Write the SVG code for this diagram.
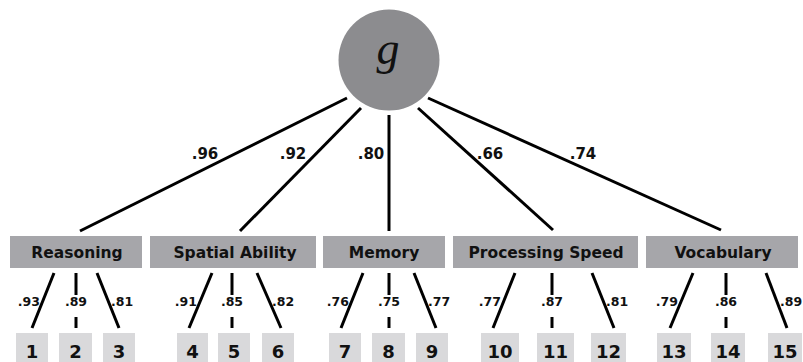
<svg xmlns="http://www.w3.org/2000/svg" width="803" height="362" viewBox="0 0 803 362">
<style>
.ln{stroke:#000;stroke-width:3;fill:none}
.fac{fill:#a6a6aa}
.ind{fill:#d9d9db}
.ft{font-family:"DejaVu Sans",sans-serif;font-weight:bold;font-size:15.5px;fill:#111;text-anchor:middle}
.it{font-family:"DejaVu Sans",sans-serif;font-weight:bold;font-size:18px;fill:#111;text-anchor:middle}
.bl{font-family:"DejaVu Sans",sans-serif;font-weight:bold;font-size:15px;fill:#111;text-anchor:middle}
.sl{font-family:"DejaVu Sans",sans-serif;font-weight:bold;font-size:12.5px;fill:#111;text-anchor:middle}
.sl.e{text-anchor:end}
.sl.s{text-anchor:start}
</style>
<rect width="803" height="362" fill="#fff"/>
<g id="connectors">
<line class="ln" x1="347" y1="98" x2="80" y2="231"/>
<line class="ln" x1="361" y1="108" x2="240" y2="231"/>
<line class="ln" x1="389" y1="115" x2="389" y2="231"/>
<line class="ln" x1="418" y1="108" x2="553" y2="230"/>
<line class="ln" x1="428" y1="98" x2="721" y2="230"/>
<line class="ln" x1="54" y1="273" x2="32" y2="328"/>
<line class="ln" x1="76" y1="273" x2="76" y2="295"/><line class="ln" x1="76" y1="317" x2="76" y2="328"/>
<line class="ln" x1="97" y1="273" x2="119" y2="328"/>
<line class="ln" x1="212" y1="273" x2="189" y2="328"/>
<line class="ln" x1="232" y1="273" x2="232" y2="295"/><line class="ln" x1="232" y1="317" x2="232" y2="328"/>
<line class="ln" x1="257" y1="273" x2="281" y2="328"/>
<line class="ln" x1="363" y1="273" x2="341" y2="328"/>
<line class="ln" x1="389" y1="273" x2="389" y2="295"/><line class="ln" x1="389" y1="317" x2="389" y2="328"/>
<line class="ln" x1="414" y1="273" x2="436" y2="328"/>
<line class="ln" x1="515" y1="273" x2="493" y2="328"/>
<line class="ln" x1="552" y1="273" x2="552" y2="295"/><line class="ln" x1="552" y1="317" x2="552" y2="328"/>
<line class="ln" x1="592" y1="273" x2="614" y2="328"/>
<line class="ln" x1="693" y1="273" x2="670" y2="328"/>
<line class="ln" x1="726" y1="273" x2="726" y2="295"/><line class="ln" x1="726" y1="317" x2="726" y2="328"/>
<line class="ln" x1="766" y1="273" x2="787" y2="328"/>
</g>
<g id="labels">
<text class="bl" x="205" y="159">.96</text>
<text class="bl" x="293" y="159">.92</text>
<text class="bl" x="371" y="159">.80</text>
<text class="bl" x="490" y="159">.66</text>
<text class="bl" x="583" y="159">.74</text>
<text class="sl e" x="40" y="306">.93</text>
<text class="sl" x="76" y="306">.89</text>
<text class="sl s" x="111" y="306">.81</text>
<text class="sl e" x="197" y="306">.91</text>
<text class="sl" x="232" y="306">.85</text>
<text class="sl s" x="272" y="306">.82</text>
<text class="sl e" x="349" y="306">.76</text>
<text class="sl" x="389" y="306">.75</text>
<text class="sl s" x="428" y="306">.77</text>
<text class="sl e" x="501" y="306">.77</text>
<text class="sl" x="552" y="306">.87</text>
<text class="sl s" x="606" y="306">.81</text>
<text class="sl e" x="678" y="306">.79</text>
<text class="sl" x="726" y="306">.86</text>
<text class="sl s" x="780" y="306">.89</text>
</g>
<g id="g"><circle cx="389" cy="60" r="50.5" fill="#8c8c8f"/><text x="388" y="64" font-family="Liberation Serif,serif" font-style="italic" font-size="46" fill="#111" text-anchor="middle">g</text></g>
<g id="reasoning"><rect class="fac" x="10" y="236" width="132" height="32"/><text class="ft" x="77" y="258">Reasoning</text></g>
<g id="spatial"><rect class="fac" x="150" y="236" width="166" height="32"/><text class="ft" x="235" y="258">Spatial Ability</text></g>
<g id="memory"><rect class="fac" x="323" y="236" width="122" height="32"/><text class="ft" x="384" y="258">Memory</text></g>
<g id="speed"><rect class="fac" x="453" y="236" width="185" height="32"/><text class="ft" x="546" y="258">Processing Speed</text></g>
<g id="vocab"><rect class="fac" x="646" y="236" width="152" height="32"/><text class="ft" x="723" y="258">Vocabulary</text></g>
<g id="i1"><rect class="ind" x="16" y="333" width="32" height="31"/><text class="it" x="32" y="358">1</text></g>
<g id="i2"><rect class="ind" x="59" y="333" width="33" height="31"/><text class="it" x="75.5" y="358">2</text></g>
<g id="i3"><rect class="ind" x="103" y="333" width="32" height="31"/><text class="it" x="119" y="358">3</text></g>
<g id="i4"><rect class="ind" x="177" y="333" width="31" height="31"/><text class="it" x="192.5" y="358">4</text></g>
<g id="i5"><rect class="ind" x="218" y="333" width="32" height="31"/><text class="it" x="234" y="358">5</text></g>
<g id="i6"><rect class="ind" x="262" y="333" width="32" height="31"/><text class="it" x="278" y="358">6</text></g>
<g id="i7"><rect class="ind" x="329" y="333" width="32" height="31"/><text class="it" x="345" y="358">7</text></g>
<g id="i8"><rect class="ind" x="372" y="333" width="33" height="31"/><text class="it" x="388.5" y="358">8</text></g>
<g id="i9"><rect class="ind" x="416" y="333" width="32" height="31"/><text class="it" x="432" y="358">9</text></g>
<g id="i10"><rect class="ind" x="481" y="333" width="38" height="31"/><text class="it" x="500" y="358">10</text></g>
<g id="i11"><rect class="ind" x="537" y="333" width="37" height="31"/><text class="it" x="555.5" y="358">11</text></g>
<g id="i12"><rect class="ind" x="591" y="333" width="35" height="31"/><text class="it" x="608.5" y="358">12</text></g>
<g id="i13"><rect class="ind" x="657" y="333" width="34" height="31"/><text class="it" x="674" y="358">13</text></g>
<g id="i14"><rect class="ind" x="711" y="333" width="34" height="31"/><text class="it" x="728" y="358">14</text></g>
<g id="i15"><rect class="ind" x="768" y="333" width="34" height="31"/><text class="it" x="785" y="358">15</text></g>
</svg>
